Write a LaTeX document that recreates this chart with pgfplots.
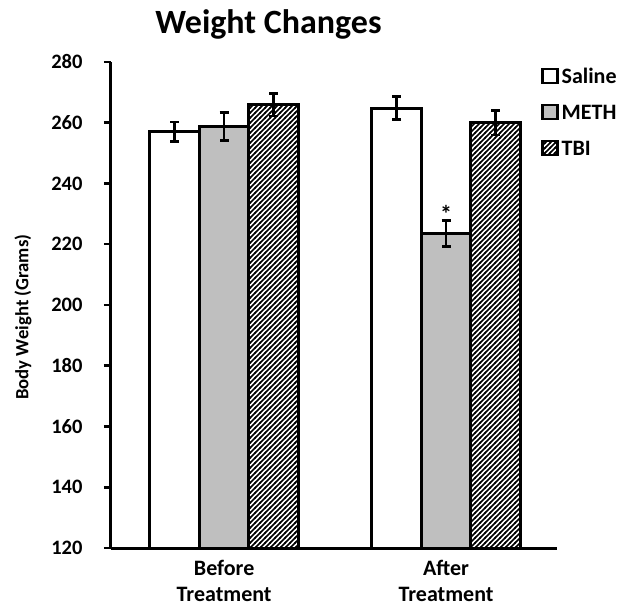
\documentclass[border=0pt]{standalone}
\usepackage{fontspec}
\setmainfont{Carlito}
\usepackage{pgfplots}
\pgfplotsset{compat=1.18}
\usetikzlibrary{patterns}
\definecolor{barGray}{RGB}{191,191,191}
\pgfdeclarepatternformonly{myhatch}{\pgfqpoint{-1bp}{-1bp}}{\pgfqpoint{6bp}{6bp}}{\pgfqpoint{5bp}{5bp}}{%
  \pgfsetlinewidth{1.6bp}%
  \pgfpathmoveto{\pgfqpoint{-1bp}{-1bp}}%
  \pgfpathlineto{\pgfqpoint{6bp}{6bp}}%
  \pgfusepath{stroke}}
\pgfplotsset{
  sqlegend/.style={legend image code/.code={\draw[##1,line width=2.5bp] (0bp,-6bp) rectangle (15bp,8bp);}},
}
\begin{document}
\begin{tikzpicture}
\path[use as bounding box] (-111bp,-60bp) rectangle (511bp,548bp);
\begin{axis}[
  at={(0,0)}, anchor=south west,
  scale only axis, width=446bp, height=486bp,
  xmin=-0.51, xmax=1.5, ymin=120, ymax=280,
  ybar, bar width=0.223, bar shift=0pt,
  ytick={120,140,...,280},
  xtick={0,1},
  xticklabels={{Before\\Treatment},{After\\Treatment}},
  xticklabel style={align=center, inner sep=0pt, yshift=-5bp, font=\bfseries\fontsize{22bp}{26bp}\selectfont},
  yticklabel style={xshift=-18bp, font=\bfseries\fontsize{20.5bp}{22bp}\selectfont},
  /pgf/number format/assume math mode=true,
  major x tick style={draw=none},
  axis x line*=bottom, axis y line*=left,
  axis line style={line width=3bp, black},
  y tick style={line width=2.5bp, black},
  tick align=outside, major tick length=7bp,
  axis on top,
  title={Weight Changes},
  title style={at={(axis description cs:0.353,1.047)}, anchor=base, font=\bfseries\fontsize{34bp}{36bp}\selectfont},
  ylabel={Body Weight (Grams)},
  every axis y label/.style={at={(axis description cs:-0.197,0.475)}, rotate=90, anchor=center, font=\bfseries\fontsize{18.7bp}{20bp}\selectfont},
  legend style={at={(axis description cs:0.964,0.989)}, anchor=north west, draw=none, fill=none,
    font=\bfseries\fontsize{22bp}{24bp}\selectfont, row sep=19.5bp, column sep=3bp, inner sep=0pt,
    nodes={inner sep=0pt, text height=14bp, text depth=0bp}},
  legend cell align=left,
  error bars/y dir=both, error bars/y explicit,
  error bars/error bar style={line width=2.5bp, black},
  error bars/error mark options={rotate=90, mark size=4.5bp, line width=2.5bp, black},
]
\addplot[draw=black, line width=3bp, fill=white, sqlegend]
  coordinates {(-0.223,257) +- (0,3.2) (0.777,264.8) +- (0,3.8)};
\addlegendentry{Saline}
\addplot[draw=black, line width=3bp, fill=barGray, sqlegend]
  coordinates {(0,258.7) +- (0,4.6) (1,223.6) +- (0,4.3)};
\addlegendentry{METH}
\addplot[draw=black, line width=3bp, pattern=myhatch, pattern color=black, sqlegend]
  coordinates {(0.223,266) +- (0,3.7) (1.223,260) +- (0,4)};
\addlegendentry{TBI}
\node[anchor=base, font=\bfseries\fontsize{24bp}{24bp}\selectfont] at (axis cs:1,227.2) {*};
\end{axis}
\end{tikzpicture}
\end{document}
